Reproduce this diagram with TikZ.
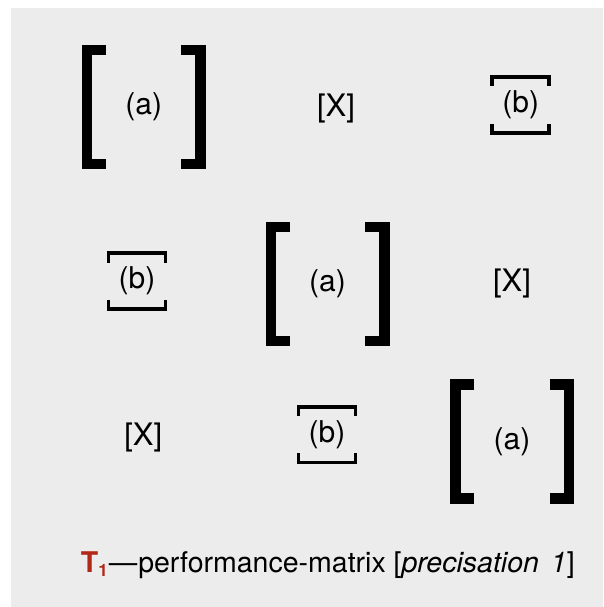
\documentclass[tikz,border=0pt]{standalone}
\usepackage{fontspec}
\setmainfont{TeX Gyre Heros}
\usetikzlibrary{calc}
\definecolor{panelgray}{RGB}{236,236,236}
\definecolor{tred}{RGB}{178,40,24}
% big square brackets round a node
\newcommand{\bigbrk}[1]{
    \draw[bigbrk] ($(#1.center)+(-37.7,-57)$) -- ($(#1.center)+(-56.75,-57)$) -- ($(#1.center)+(-56.75,57)$) -- ($(#1.center)+(-37.7,57)$);
    \draw[bigbrk] ($(#1.center)+(37.7,-57)$) -- ($(#1.center)+(56.75,-57)$) -- ($(#1.center)+(56.75,57)$) -- ($(#1.center)+(37.7,57)$);
}
% small brackets above and below a node
\newcommand{\smallbrk}[1]{
    \draw[smallbrk] ($(#1.center)+(-28.55,-18.5)$) -- ($(#1.center)+(-28.55,-27.75)$) -- ($(#1.center)+(28.55,-27.75)$) -- ($(#1.center)+(28.55,-18.5)$);
    \draw[smallbrk] ($(#1.center)+(-28.55,18.5)$) -- ($(#1.center)+(-28.55,27.75)$) -- ($(#1.center)+(28.55,27.75)$) -- ($(#1.center)+(28.55,18.5)$);
}
\begin{document}
\begin{tikzpicture}[
        x=1pt, y=-1pt,
        lbl/.style={font=\fontsize{30}{34}\selectfont, inner sep=0pt},
        xlbl/.style={font=\fontsize{31}{35}\selectfont, inner sep=0pt},
        bigbrk/.style={line width=10.5pt, line join=miter},
        smallbrk/.style={line width=3.6pt, line join=miter}
    ]
        \useasboundingbox (0,0) rectangle (603,607);
        \fill[white] (0,0) rectangle (603,607);
        \fill[panelgray] (11,8) rectangle (603,607);

        % Row 1
        \node[lbl] (a1) at (143.7,107) {(a)};
        \node[xlbl] (x1) at (336,108) {[X]};
        \node[lbl] (b1) at (520.7,105) {(b)};

        % Row 2
        \node[lbl] (b2) at (137,281) {(b)};
        \node[lbl] (a2) at (327.5,284) {(a)};
        \node[xlbl] (x2) at (512,283) {[X]};

        % Row 3
        \node[xlbl] (x3) at (143.3,437.5) {[X]};
        \node[lbl] (b3) at (327,434.7) {(b)};
        \node[lbl] (a3) at (512,441.3) {(a)};

        % Brackets
        \bigbrk{a1}
        \bigbrk{a2}
        \bigbrk{a3}
        \smallbrk{b1}
        \smallbrk{b2}
        \smallbrk{b3}

        % Caption
        \node[anchor=base west, inner sep=0pt, font=\fontsize{28.5}{32}\selectfont] (cap) at (80.7,572.3)
            {\textcolor{tred}{\textbf{T}\raisebox{-0.25ex}{\fontsize{17}{17}\selectfont\textbf{1}}}\hspace{1pt}—\hspace{1pt}performance-matrix [\textit{precisation\hspace{12pt}1}]};
\end{tikzpicture}
\end{document}
